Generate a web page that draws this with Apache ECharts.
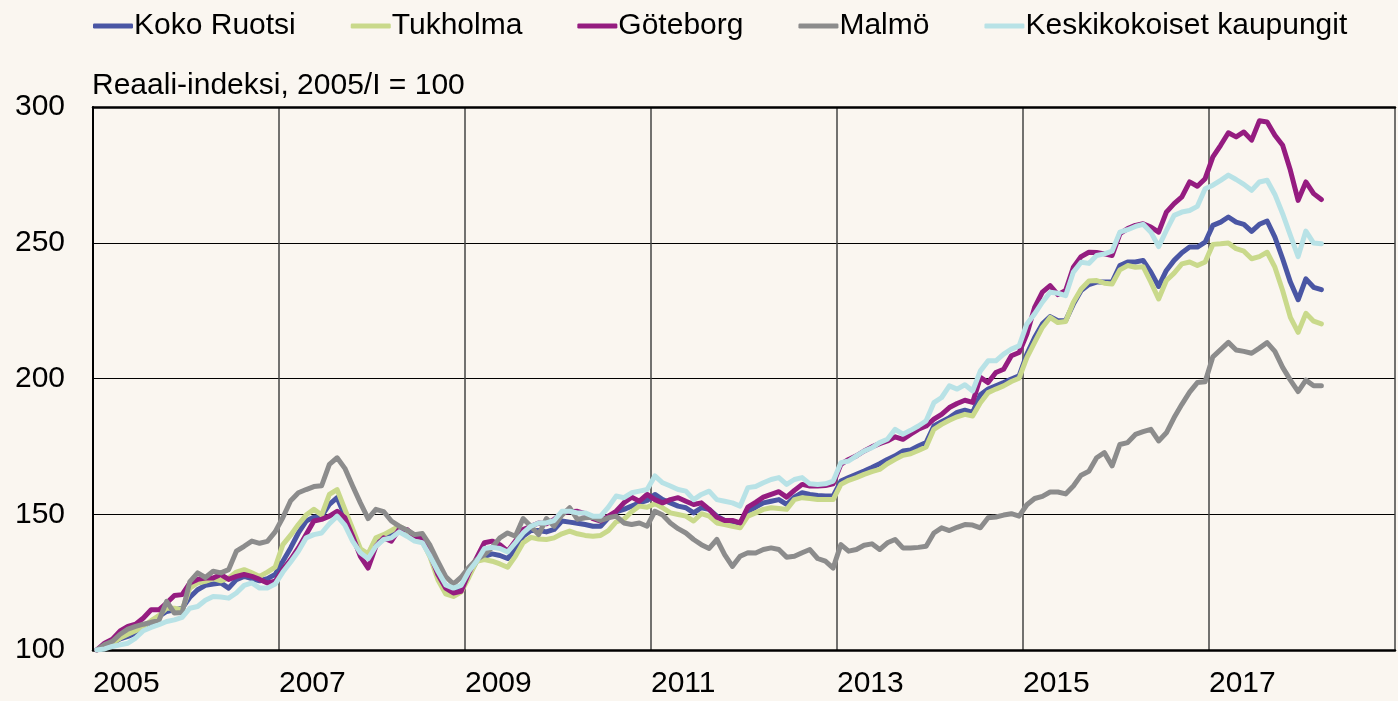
<!DOCTYPE html>
<html>
<head>
<meta charset="utf-8">
<script src="https://cdn.jsdelivr.net/npm/echarts@6/dist/echarts.min.js"></script>
<style>
    html, body {margin: 0; padding: 0; background: #faf6f0;}
    #container {width: 1398px; height: 701px;}
</style>
</head>
<body>
<div id="container"></div>
<script>
// sarjat kuukausittain 2005/1 - 2018/3
var seriesNames = ['Koko Ruotsi', 'Tukholma', 'Göteborg', 'Malmö', 'Keskikokoiset kaupungit'];
var seriesColors = ['#4a56a4', '#c9d98b', '#951c80', '#8c8c8c', '#b8e2e6'];
var startYear = 2005;
var yearLabels = [2005, 2007, 2009, 2011, 2013, 2015, 2017];

var kokoRuotsi = [
    100, 101.3, 102.5, 104.1, 105.0, 106.2, 107.8, 109.9, 112.4, 114.2, 114.8, 115.4,
    119.4, 122.2, 123.8, 124.3, 124.7, 122.8, 125.9, 127.1, 126.3, 125.5, 126.3, 127.8,
    132.7, 137.6, 143.1, 147.5, 148.9, 149.3, 153.6, 156.1, 149.3, 141.3, 135.8, 135.1,
    140.7, 141.9, 142.8, 144.7, 143.1, 141.7, 140.9, 135.5, 128.1, 122.5, 121.5, 122.5,
    127.5, 132.7, 134.5, 135.4, 134.8, 133.7, 137.0, 141.9, 144.0, 144.0, 143.5, 144.4,
    147.5, 147.1, 146.7, 146.2, 145.6, 145.6, 148.7, 150.9, 151.8, 153.0, 154.2, 155.1,
    157.3, 155.4, 154.2, 153.0, 152.4, 150.5, 152.4, 151.8, 149.3, 147.7, 147.2, 146.8,
    151.1, 152.6, 154.2, 154.8, 155.4, 153.6, 156.3, 157.9, 157.3, 156.9, 156.7, 156.7,
    162.2, 163.5, 164.7, 165.9, 167.2, 168.6, 170.2, 171.5, 173.3, 173.7, 175.1, 176.4,
    182.5, 184.1, 185.6, 187.5, 188.3, 187.5, 194.0, 196.1, 197.3, 198.5, 199.8, 201.0,
    209.0, 215.1, 220.1, 222.8, 221.3, 221.3, 227.4, 232.4, 234.6, 235.5, 235.5, 235.5,
    241.6, 242.9, 242.9, 243.5, 239.2, 233.9, 239.8, 243.5, 246.3, 248.4, 248.4, 250.2,
    256.4, 257.6, 259.5, 257.6, 256.8, 254.2, 256.8, 258.0, 252.1, 244.1, 235.5, 229.0,
    236.7, 233.6, 232.7
];

var tukholma = [
    100, 101.3, 102.5, 104.4, 105.8, 107.1, 108.7, 110.8, 112.7, 115.4, 115.4, 114.8,
    122.8, 124.7, 125.3, 126.3, 125.5, 126.5, 128.7, 129.6, 128.4, 127.1, 128.7, 130.5,
    138.8, 142.3, 146.2, 149.7, 151.8, 149.7, 157.3, 159.1, 151.8, 144.7, 137.3, 135.4,
    141.3, 142.5, 144.0, 145.6, 144.0, 141.7, 140.1, 134.2, 125.9, 120.7, 119.7, 121.3,
    126.8, 132.7, 133.3, 132.7, 131.7, 130.5, 134.5, 139.5, 141.5, 140.9, 140.7, 141.3,
    142.8, 143.8, 142.8, 142.2, 141.9, 142.2, 144.0, 147.2, 148.1, 150.9, 153.0, 152.6,
    153.9, 152.4, 150.5, 149.9, 149.3, 147.5, 150.2, 149.3, 146.8, 146.2, 145.6, 145.0,
    149.3, 150.5, 151.8, 152.4, 152.1, 151.8, 155.4, 156.1, 155.8, 155.4, 155.4, 155.4,
    161.0, 162.5, 163.5, 164.7, 165.7, 166.5, 168.6, 170.2, 171.7, 172.3, 173.5, 174.8,
    181.3, 183.1, 184.6, 185.9, 186.8, 186.2, 191.1, 194.8, 196.1, 197.3, 198.9, 200.1,
    207.7, 213.3, 218.8, 222.5, 220.6, 221.0, 228.1, 233.0, 235.9, 236.1, 235.1, 234.8,
    240.0, 241.6, 241.0, 241.2, 235.5, 229.3, 236.1, 238.8, 242.2, 242.9, 241.6, 242.9,
    249.4, 249.6, 249.9, 247.8, 246.9, 244.1, 244.9, 246.5, 241.0, 232.4, 222.5, 217.0,
    224.0, 221.1, 220.1
];

var goteborg = [
    100, 102.5, 104.0, 107.0, 108.7, 109.5, 111.8, 114.8, 114.8, 117.3, 120.1, 120.4,
    124.7, 126.0, 126.5, 126.5, 127.8, 126.0, 127.1, 127.8, 127.1, 126.0, 124.7, 125.3,
    129.6, 133.3, 137.6, 142.5, 147.5, 148.1, 149.3, 151.1, 148.7, 141.9, 134.5, 130.2,
    138.2, 141.3, 140.1, 144.4, 144.4, 141.9, 141.3, 135.1, 127.8, 122.8, 121.0, 121.6,
    128.4, 133.9, 139.5, 140.1, 138.8, 136.4, 140.1, 144.4, 145.6, 146.8, 146.5, 148.1,
    150.5, 150.9, 151.1, 150.2, 148.4, 147.5, 149.3, 151.1, 154.2, 156.3, 154.8, 157.3,
    155.4, 154.2, 155.4, 156.1, 154.8, 153.6, 154.2, 151.8, 148.9, 147.7, 147.7, 146.8,
    152.6, 154.4, 156.3, 157.3, 158.3, 156.3, 158.8, 161.0, 160.4, 160.4, 160.6, 161.2,
    168.4, 170.2, 171.5, 173.3, 174.8, 176.0, 177.0, 178.5, 177.6, 179.5, 181.3, 182.5,
    185.0, 186.8, 189.3, 190.8, 192.0, 191.2, 200.4, 198.5, 202.2, 203.4, 208.4, 209.6,
    216.4, 226.2, 231.8, 234.2, 230.9, 232.4, 241.0, 244.9, 246.5, 246.4, 245.9, 245.3,
    253.3, 255.2, 256.4, 257.0, 255.8, 253.9, 261.3, 264.4, 266.9, 272.4, 270.8, 273.6,
    281.6, 285.9, 290.5, 289.0, 290.8, 287.8, 294.9, 294.5, 289.6, 285.9, 276.7, 265.6,
    272.4, 268.1, 265.9
];

var malmo = [
    100, 102.0, 103.2, 105.8, 107.7, 108.7, 109.5, 110.2, 110.8, 117.9, 113.6, 113.8,
    125.2, 128.4, 126.7, 129.0, 128.4, 129.6, 136.4, 138.2, 140.1, 139.3, 140.0, 143.5,
    148.8, 155.0, 157.9, 159.1, 160.2, 160.5, 168.4, 170.8, 166.9, 160.4, 154.2, 148.4,
    151.8, 151.0, 147.5, 145.6, 144.2, 142.5, 142.9, 138.5, 132.6, 127.1, 124.3, 126.8,
    130.5, 133.3, 135.1, 137.8, 141.3, 143.1, 141.9, 148.4, 145.6, 142.5, 148.4, 145.6,
    149.7, 152.4, 148.1, 148.7, 148.9, 147.7, 148.7, 149.3, 146.8, 146.2, 146.8, 145.6,
    151.1, 149.7, 146.8, 144.7, 143.1, 140.7, 138.8, 137.4, 140.7, 135.1, 130.8, 134.5,
    135.8, 135.7, 137.0, 137.6, 137.0, 134.2, 134.5, 135.8, 137.0, 133.7, 132.7, 130.2,
    138.8, 136.4, 137.0, 138.6, 139.1, 137.0, 139.5, 140.7, 137.6, 137.6, 137.8, 138.2,
    143.1, 145.0, 144.0, 145.2, 146.2, 146.0, 145.0, 148.7, 149.0, 149.7, 150.2, 149.3,
    153.5, 155.8, 156.6, 158.2, 158.2, 157.5, 160.4, 164.4, 165.8, 170.8, 172.7, 167.8,
    175.7, 176.4, 179.4, 180.4, 181.3, 177.0, 180.0, 185.6, 190.5, 195.0, 198.5, 198.8,
    208.0, 210.6, 213.3, 210.5, 210.0, 209.3, 211.2, 213.2, 210.0, 204.1, 199.4, 195.2,
    199.4, 197.3, 197.3
];

var keskikokoiset = [
    100, 100.4, 101.3, 101.9, 102.5, 104.4, 107.1, 108.3, 109.3, 110.5, 111.1, 112.0,
    115.4, 116.0, 118.3, 119.7, 119.5, 119.1, 121.0, 123.8, 124.7, 122.8, 122.8, 124.3,
    128.7, 132.4, 136.4, 141.3, 142.5, 143.1, 146.5, 149.3, 146.0, 140.1, 135.8, 133.6,
    138.2, 140.7, 141.3, 143.5, 141.9, 140.1, 139.5, 134.5, 129.0, 124.0, 122.8, 123.8,
    129.0, 132.7, 137.4, 137.8, 137.4, 136.1, 139.5, 143.1, 145.6, 146.8, 146.8, 147.7,
    151.1, 151.1, 150.5, 150.5, 149.3, 149.3, 152.6, 156.7, 156.1, 157.9, 158.5, 159.1,
    164.1, 161.6, 160.4, 159.1, 158.5, 155.4, 157.3, 158.5, 155.4, 154.8, 154.2, 153.0,
    159.8, 160.2, 161.6, 162.8, 163.5, 161.0, 162.8, 163.5, 161.2, 161.0, 161.2, 162.2,
    169.0, 169.6, 171.5, 173.3, 174.5, 176.4, 177.6, 181.3, 179.5, 180.9, 182.5, 184.4,
    191.1, 193.0, 197.3, 196.1, 197.7, 195.4, 202.8, 206.5, 206.5, 209.0, 210.8, 212.0,
    220.1, 223.8, 228.1, 231.8, 231.4, 230.5, 239.2, 242.8, 242.4, 245.3, 245.9, 246.9,
    253.9, 254.8, 256.0, 256.8, 253.9, 248.6, 254.5, 260.1, 261.3, 261.9, 263.4, 269.9,
    271.2, 273.0, 274.9, 273.3, 271.5, 269.3, 272.4, 273.0, 267.8, 260.7, 252.7, 244.9,
    254.3, 249.9, 249.6
];

var fontName = "'Liberation Sans', Arial, sans-serif";

// kuukausi -> vuosiluku (kuun keskikohta)
function toPoints(arr) {
    var out = [];
    for (var i = 0; i < arr.length; i++) {
        out.push([startYear + (i + 0.5) / 12, arr[i]]);
    }
    return out;
}

function makeSeries(name, arr, color) {
    return {
        name: name,
        type: 'line',
        xAxisIndex: 0,
        data: toPoints(arr),
        symbol: 'none',
        lineStyle: {color: color, width: 5, cap: 'round', join: 'round'},
        itemStyle: {color: color}
    };
}

var myChart = echarts.init(document.getElementById('container'), null, {renderer: 'canvas'});
var allData = [kokoRuotsi, tukholma, goteborg, malmo, keskikokoiset];
var seriesList = [];
for (var s = 0; s < allData.length; s++) {
    seriesList.push(makeSeries(seriesNames[s], allData[s], seriesColors[s]));
}

var option = {
    backgroundColor: '#faf6f0',
    animation: false,
    textStyle: {fontFamily: fontName},
    title: {
        text: 'Reaali-indeksi, 2005/I = 100',
        left: 87,
        top: 66,
        textStyle: {fontFamily: fontName, fontSize: 30, fontWeight: 'normal', color: '#000'}
    },
    legend: {
        data: seriesNames,
        left: 88,
        top: 6,
        icon: 'roundRect',
        itemWidth: 40,
        itemHeight: 5,
        itemGap: 55,
        textStyle: {fontFamily: fontName, fontSize: 30, color: '#000', padding: [0, 0, 0, -4]}
    },
    grid: {left: 93, right: 2, top: 107, bottom: 51},
    xAxis: [
        {
            type: 'value',
            min: 2005,
            max: 2019,
            interval: 2,
            axisLine: {show: true, onZero: false, lineStyle: {color: '#000', width: 2.5}},
            axisTick: {show: false},
            splitLine: {show: true, lineStyle: {color: '#444', width: 1.5}},
            axisLabel: {
                align: 'left',
                margin: 19,
                fontSize: 30,
                color: '#000',
                fontFamily: fontName,
                formatter: function (v) {
                    return yearLabels.indexOf(v) >= 0 ? String(v) : '';
                }
            }
        },
        {
            // yläreunan viiva
            type: 'value',
            position: 'top',
            min: 2005,
            max: 2019,
            axisLine: {show: true, onZero: false, lineStyle: {color: '#000', width: 2.5}},
            axisTick: {show: false},
            axisLabel: {show: false},
            splitLine: {show: false}
        }
    ],
    yAxis: {
        type: 'value',
        min: 100,
        max: 300,
        interval: 50,
        axisLine: {show: true, onZero: false, lineStyle: {color: '#000', width: 2}},
        axisTick: {show: false},
        splitLine: {show: true, lineStyle: {color: '#000', width: 1.2}},
        axisLabel: {margin: 28, fontSize: 30, color: '#000', fontFamily: fontName}
    },
    series: seriesList
};
myChart.setOption(option);
</script>
</body>
</html>
